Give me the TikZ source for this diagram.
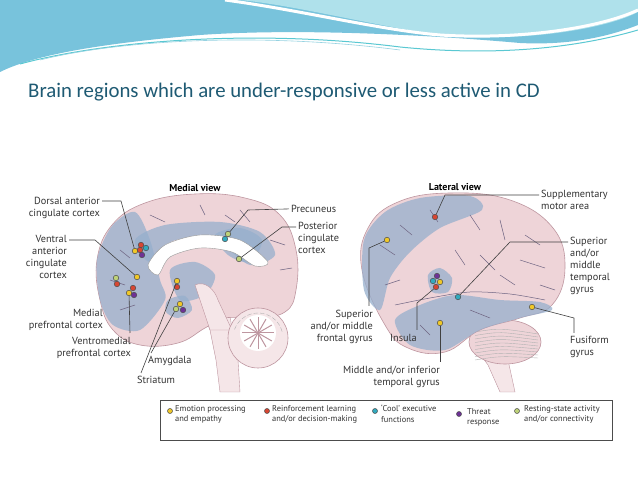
\documentclass[tikz,border=0pt]{standalone}
\usepackage{fontspec}
\setmainfont{PT Sans}
\newfontfamily\titlefont{Carlito}
\definecolor{cY}{RGB}{240,200,40}\definecolor{cR}{RGB}{215,70,50}
\definecolor{cC}{RGB}{50,170,190}\definecolor{cP}{RGB}{110,50,150}
\definecolor{cG}{RGB}{190,210,120}
\definecolor{wave1}{RGB}{120,195,220}\definecolor{wave2}{RGB}{175,225,235}
\definecolor{wave3}{RGB}{90,200,210}\definecolor{wave4}{RGB}{150,210,225}
\definecolor{ttl}{RGB}{30,90,115}
\definecolor{pinkf}{RGB}{238,212,216}\definecolor{pinkd}{RGB}{190,150,160}
\definecolor{pinkl}{RGB}{245,230,232}
\definecolor{bluf}{RGB}{150,175,205}\definecolor{sul}{RGB}{110,100,130}
\begin{document}
\begin{tikzpicture}[x=1pt,y=-1pt,
  lbl/.style={font=\fontsize{10.3}{12}\selectfont,text=black!80,inner sep=0pt,align=right},
  lbll/.style={lbl,align=left},
  leg/.style={font=\fontsize{8.4}{10.5}\selectfont,text=black!80,inner sep=0pt,align=left},
  ld/.style={draw=black!75,line width=0.6pt},
  dot/.style={circle,draw=black!70,line width=0.5pt,minimum size=5.5pt,inner sep=0pt},
  pink/.style={fill=pinkf,draw=pinkd,line width=0.6pt},
  blu/.style={fill=bluf,fill opacity=0.75},
  sulc/.style={draw=sul,line width=0.5pt}]
\useasboundingbox (0,0) rectangle (638,478);
\fill[white] (0,0) rectangle (638,478);
% header waves
\fill[wave1] (0,0) -- (638,0) -- (638,25) .. controls (600,40) and (560,45) .. (520,43) .. controls (430,35) and (300,28) .. (200,35) .. controls (120,42) and (40,52) .. (0,72) -- cycle;
\fill[wave2] (240,0) -- (638,0) -- (638,12) .. controls (600,32) and (500,45) .. (420,32) .. controls (350,20) and (290,5) .. (240,0) -- cycle;
\draw[white,line width=3pt] (225,0) .. controls (300,10) and (380,30) .. (440,35) .. controls (520,40) and (600,28) .. (638,10);
\draw[wave3,line width=1pt] (20,64) .. controls (100,42) and (250,28) .. (400,47) .. controls (500,57) and (580,47) .. (638,30);
\draw[wave4,line width=0.6pt] (40,60) .. controls (120,40) and (260,32) .. (400,50);
\node[anchor=west,font=\titlefont\fontsize{20.8}{24}\selectfont,text=ttl,inner sep=0pt] (title) at (28,92) {Brain regions which are under-responsive or less active in CD};
% ---------------- medial brain
\fill[pinkl,draw=pinkd] (198,300) -- (210,330) -- (216,360) -- (220,392) -- (240,392) -- (238,360) -- (232,330) -- (228,300) -- cycle;
\draw[pink] plot[smooth cycle,tension=0.7] coordinates {(100,300) (97,260) (112,225) (145,203) (195,194) (245,198) (280,215) (296,250) (296,290) (285,312) (255,318) (225,318) (205,328) (178,343) (140,345) (113,330)};
\fill[blu] plot[smooth cycle] coordinates {(100,300) (97,260) (112,226) (135,212) (150,240) (160,280) (165,300) (140,330) (113,325)};
\fill[blu] plot[smooth cycle] coordinates {(135,240) (165,225) (220,222) (260,232) (275,255) (250,265) (220,245) (175,240) (150,262)};
\fill[blu] plot[smooth cycle] coordinates {(215,235) (240,228) (262,240) (250,262) (228,255)};
\fill[white,draw=black!40,line width=0.4pt] plot[smooth cycle] coordinates {(148,265) (165,245) (200,235) (240,240) (268,262) (255,266) (232,252) (200,248) (170,257) (158,275)};
\fill[blu] plot[smooth cycle] coordinates {(170,270) (195,262) (215,275) (205,295) (180,300)};
\fill[blu] plot[smooth cycle] coordinates {(168,300) (185,296) (192,310) (178,318) (166,312)};
\fill[pinkl,draw=pinkd] (195,285) .. controls (205,280) and (215,290) .. (218,300) -- (232,330) -- (210,330) -- cycle;
\draw[sulc] (120,250)--(130,258) (110,280)--(125,285) (150,215)--(165,222) (200,205)--(205,215) (240,210)--(250,222) (270,240)--(285,245) (280,270)--(292,268) (120,310)--(135,305) (225,215)--(235,222);
\draw[pink,fill=pinkl] (258,338) circle (30);
\fill[white] (258,333) circle (18);
\foreach \a in {0,30,...,330} \draw[pinkd,line width=1pt] (258,333) -- ++(\a:16);
\foreach \a in {200,215,...,340} \draw[black!30] (258,338) ++(\a:25) arc (\a:\a+10:25);
% medial dots
\node[dot,fill=cR] (d1) at (141,245) {};\node[dot,fill=cC] (d2) at (146,248) {};
\node[dot,fill=cY] (d3) at (135,251) {};\node[dot,fill=cR] (d4) at (140,250) {};
\node[dot,fill=cP] (d5) at (142,255) {};
\node[dot,fill=cY] (v1) at (137,277) {};
\node[dot,fill=cG] (m1) at (116,278) {};\node[dot,fill=cR] (m2) at (117,284) {};
\node[dot,fill=cR] (vm1) at (133,288) {};\node[dot,fill=cY] (vm2) at (129,293) {};\node[dot,fill=cP] (vm3) at (134,295) {};
\node[dot,fill=cY] (s1) at (177,281) {};\node[dot,fill=cR] (s2) at (177,287) {};
\node[dot,fill=cY] (a1) at (180,304) {};\node[dot,fill=cG] (a2) at (176,309) {};\node[dot,fill=cP] (a3) at (183,310) {};
\node[dot,fill=cG] (p1) at (228,234) {};\node[dot,fill=cC] (p2) at (225,239) {};
\node[dot,fill=cG] (pc) at (239,259) {};
% medial labels
\node[font=\bfseries\fontsize{10}{12}\selectfont,inner sep=0pt] (mv) at (195,188) {Medial view};
\node[lbl,anchor=north east] (l1) at (100,197) {Dorsal anterior\\cingulate cortex};
\coordinate (c1) at (121,201);
\draw[ld] ([shift={(2,4)}]l1.north east) -- (c1) -- (d3);
\node[lbl,anchor=north east] (l2) at (67,235) {Ventral\\anterior\\cingulate\\cortex};
\coordinate (c2) at (95,240);
\draw[ld] ([shift={(2,5)}]l2.north east) -- (c2) -- (v1);
\node[lbl,anchor=north east] (l3) at (103,309) {Medial\\prefrontal cortex};
\node[lbl,anchor=north east] (l4) at (131,337) {Ventromedial\\prefrontal cortex};
\draw[ld] ([shift={(-1,-4)}]l4.north east) -- (vm2);
\node[lbll,anchor=north west] (l5) at (148,356) {Amygdala};
\draw[ld] ([shift={(3,-3)}]l5.north west) -- (a2);
\node[lbll,anchor=north west] (l6) at (137,376) {Striatum};
\draw[ld] ([shift={(4,-3)}]l6.north west) -- (s1);
\node[lbll,anchor=north west] (l7) at (291,205) {Precuneus};
\coordinate (c7) at (248,210);
\draw[ld] ([shift={(-2,0)}]l7.west) -- (c7) -- (p1);
\node[lbll,anchor=north west] (l8) at (298,222) {Posterior\\cingulate\\cortex};
\coordinate (c8) at (282,227);
\draw[ld] ([shift={(-2,5)}]l8.north west) -- (c8) -- (pc);
% ---------------- lateral brain
\fill[pinkl,draw=pinkd] (470,340) -- (488,365) -- (500,392) -- (515,392) -- (508,360) -- (495,335) -- cycle;
\draw[pink] (505,342) ellipse (36 and 22);
\foreach \i in {0,...,8} \draw[black!30] (475,332+\i*3.5) .. controls (500,328+\i*3.5) .. (538,334+\i*3);
\draw[pink] plot[smooth cycle,tension=0.7] coordinates {(362,270) (368,228) (398,202) (450,193) (510,200) (553,228) (565,268) (552,305) (520,318) (480,330) (445,352) (408,348) (385,325)};
\fill[blu] plot[smooth cycle] coordinates {(364,290) (364,240) (385,212) (420,198) (470,196) (482,210) (440,228) (410,252) (390,278) (380,310)};
\fill[blu] plot[smooth cycle] coordinates {(428,275) (440,268) (452,278) (448,292) (432,292)};
\fill[blu] plot[smooth cycle] coordinates {(395,320) (420,305) (455,295) (500,300) (540,302) (552,310) (520,318) (480,330) (445,350) (410,345)};
\draw[sulc] plot[smooth] coordinates {(395,305) (430,298) (470,292) (510,294) (545,300)};
\draw[sulc] (380,245)--(395,255) (400,225)--(412,235) (430,210)--(438,222) (470,215)--(480,230) (500,220)--(505,240) (525,235)--(540,245) (520,260)--(545,268) (480,255)--(495,270) (455,250)--(465,265) (385,285)--(400,280) (540,285)--(555,290) (470,310)--(490,318) (420,325)--(430,335) (500,275)--(515,285);
% lateral dots
\node[dot,fill=cR] (sm) at (435,217) {};
\node[dot,fill=cY] (sf) at (387,240) {};
\node[dot,fill=cP] (i1) at (437,276) {};\node[dot,fill=cC] (i2) at (433,281) {};
\node[dot,fill=cY] (i3) at (440,282) {};\node[dot,fill=cR] (i4) at (436,287) {};
\node[dot,fill=cC] (st) at (458,297) {};
\node[dot,fill=cY] (mt) at (440,323) {};
\node[dot,fill=cY] (fu) at (532,307) {};
% lateral labels
\node[font=\bfseries\fontsize{10}{12}\selectfont,inner sep=0pt] (lv) at (455,187) {Lateral view};
\node[lbll,anchor=north west] (r1) at (541,190) {Supplementary\\motor area};
\coordinate (k1) at (445,195);
\draw[ld] ([shift={(-2,5)}]r1.north west) -- (k1) -- (sm);
\node[lbll,anchor=north west] (r2) at (570,237) {Superior\\and/or\\middle\\temporal\\gyrus};
\coordinate (k2) at (510,242);
\draw[ld] ([shift={(-2,5)}]r2.north west) -- (k2) -- (st);
\node[lbl,anchor=north east] (r3) at (373,310) {Superior\\and/or middle\\frontal gyrus};
\coordinate (k3) at (369,248);
\coordinate (k3b) at (369,306);
\draw[ld] (k3b) -- (k3) -- (sf);
\node[lbll,anchor=north west] (r4) at (390,334) {Insula};
\coordinate (k4) at (417,303);
\coordinate (k4b) at (417,330);
\draw[ld] (k4b) -- (k4) -- (i4);
\node[lbl,anchor=north east] (r5) at (440,366) {Middle and/or inferior\\temporal gyrus};
\coordinate (k5) at (440,362);
\draw[ld] (k5) -- (mt);
\node[lbll,anchor=north west] (r6) at (570,336) {Fusiform\\gyrus};
\coordinate (k6) at (574,318);
\coordinate (k6b) at (574,333);
\draw[ld] (k6b) -- (k6) -- (fu);
% legend
\node[draw=black!70,line width=0.7pt,minimum width=452pt,minimum height=40pt,anchor=north west,inner sep=0pt] (leg) at (160,400) {};
\node[dot,fill=cY,minimum size=5pt] (g1) at (170,411) {};
\node[leg,anchor=north west] (t1) at (175,405) {Emotion processing\\and empathy};
\node[dot,fill=cR,minimum size=5pt] (g2) at (267,411) {};
\node[leg,anchor=north west] (t2) at (272,405) {Reinforcement learning\\and/or decision-making};
\node[dot,fill=cC,minimum size=5pt] (g3) at (375,411) {};
\node[leg,anchor=north west] (t3) at (381,405) {`Cool' executive\\functions};
\node[dot,fill=cP,minimum size=5pt] (g4) at (459,414) {};
\node[leg,anchor=north west] (t4) at (467,408) {Threat\\response};
\node[dot,fill=cG,minimum size=5pt] (g5) at (517,411) {};
\node[leg,anchor=north west] (t5) at (524,405) {Resting-state activity\\and/or connectivity};
\end{tikzpicture}
\end{document}
